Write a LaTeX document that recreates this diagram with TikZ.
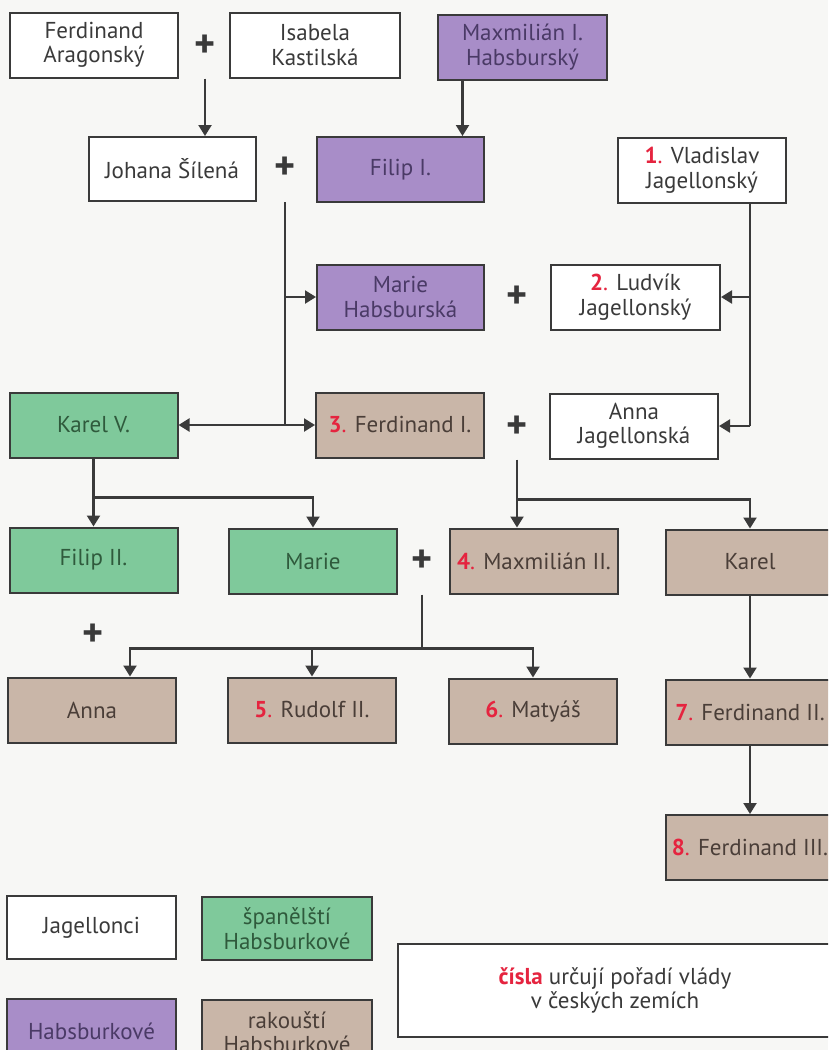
\documentclass[tikz,border=0pt]{standalone}
\usepackage{fontspec}
\setmainfont{PT Sans}
\usetikzlibrary{arrows.meta,calc}
\definecolor{bgc}{HTML}{F7F7F5}
\definecolor{linec}{HTML}{3A3A3A}
\definecolor{habs}{HTML}{A88DC8}
\definecolor{habtext}{HTML}{4A3A66}
\definecolor{spa}{HTML}{7FC99B}
\definecolor{spatext}{HTML}{2F5A3C}
\definecolor{rak}{HTML}{C9B6A8}
\definecolor{raktext}{HTML}{4A3E38}
\definecolor{nrred}{HTML}{E5243F}
\newcommand{\nr}[1]{{\color{nrred}\textbf{#1}.}}
\tikzset{
    person/.style={draw=linec,line width=2pt,fill=white,text=linec,minimum width=168pt,minimum height=65pt,
        align=center,inner sep=2pt,font=\fontsize{23}{24.5}\selectfont},
    habsb/.style={person,fill=habs,text=habtext},
    spanb/.style={person,fill=spa,text=spatext},
    austb/.style={person,fill=rak,text=raktext},
    marry/.style={text=linec,inner sep=0pt,font=\fontsize{40}{40}\selectfont\bfseries},
    conn/.style={draw=linec,line width=2.2pt},
    arr/.style={conn,-{Triangle[width=13pt,length=11pt]}}
}
\begin{document}
\begin{tikzpicture}[x=1pt,y=-1pt]
    \path[use as bounding box,fill=bgc] (0,0) rectangle (828,1050);
    \clip (0,0) rectangle (828,1050);
    % generations
    \node[person] at (94,45)(fa){Ferdinand\\Aragonský};
    \node[person,minimum width=170pt] at (315,45)(ik){Isabela\\Kastilská};
    \node[habsb,minimum width=169pt] at (522.5,47)(mx1){Maxmilián I.\\Habsburský};
    \node[person,minimum width=167pt,minimum height=64pt] at (172,169)(js){Johana Šílená};
    \node[habsb,minimum width=167pt] at (400.5,169.5)(fi){Filip I.};
    \node[person] at (702,170)(vl){\nr{1} Vladislav\\Jagellonský};
    \node[habsb,minimum width=167pt] at (400.5,297)(mh){Marie\\Habsburská};
    \node[person,minimum width=169pt] at (635.5,297)(lu){\nr{2} Ludvík\\Jagellonský};
    \node[spanb] at (93.5,425)(kv){Karel V.};
    \node[austb] at (400,425)(f1){\nr{3} Ferdinand I.};
    \node[person] at (634,426)(aj){Anna\\Jagellonská};
    \node[spanb] at (93.5,560)(f2){Filip II.};
    \node[spanb] at (313,561)(ma){Marie};
    \node[austb] at (534,561)(mx2){\nr{4} Maxmilián II.};
    \node[austb] at (750,562)(ka){Karel};
    \node[austb] at (92,710)(an){Anna};
    \node[austb] at (312,710)(ru){\nr{5} Rudolf II.};
    \node[austb] at (533,711)(mt){\nr{6} Matyáš};
    \node[austb] at (750,712)(f7){\nr{7} Ferdinand II.};
    \node[austb] at (750,847.5)(f8){\nr{8} Ferdinand III.};
    \foreach \p/\x/\y in {1/205/46,2/285/168,3/517/297,4/517/427,5/422/561,6/93/635}{
        \node[marry] at (\x,\y)(plus\p){+};
    }
    % legend
    \node[person,minimum width=169pt,minimum height=63pt] at (91.5,927.5)(lgj){Jagellonci};
    \node[spanb,minimum width=170pt,minimum height=63pt] at (287,928.5)(lgs){španělští\\Habsburkové};
    \node[habsb,minimum width=169pt] at (91.5,1031)(lgh){Habsburkové};
    \node[austb,minimum width=170pt] at (287,1032)(lgr){rakouští\\Habsburkové};
    \node[person,minimum width=434pt,minimum height=93pt] at (615,990.5)(lgn){{\color{nrred}\textbf{čísla}} určují pořadí vlády\\v českých zemích};
    % connectors
    \coordinate (mxb) at ($(mx1.south)+(-60,0)$);
    \coordinate (vlb) at ($(vl.south)+(48,0)$);
    \coordinate (k4) at ($(plus4 |- mx2.north)+(0,-28)$);
    \coordinate (k5) at ($(plus5 |- ru.north)+(0,-28)$);
    \path[arr] (plus1 |- fa.south) -- (plus1 |- js.north);
    \path[arr] (mxb) -- (mxb |- fi.north);
    \path[conn] (plus2 |- js.south) -- (plus2 |- kv.east);
    \path[arr] (plus2 |- mh.west) -- (mh.west);
    \path[arr] (plus2 |- kv.east) -- (kv.east);
    \path[arr] (plus2 |- f1.west) -- (f1.west);
    \path[conn] (vlb) -- (vlb |- aj.east);
    \path[arr] (vlb |- lu.east) -- (lu.east);
    \path[arr] (vlb |- aj.east) -- (aj.east);
    \path[arr] (kv.south) -- (f2.north);
    \path[arr] (kv.south) |- ($(ma.north)+(0,-30)$) -- (ma.north);
    \path[arr] (plus4 |- aj.south) -- (plus4 |- mx2.north);
    \path[arr] (k4) -| (ka.north);
    \path[conn] (plus5 |- mx2.south) -- (k5);
    \path[arr] (k5) -| (mt.north);
    \path[arr] (k5) -| ($(an.north)+(38,0)$);
    \path[arr] (ru.north |- k5) -- (ru.north);
    \path[arr] (ka.south) -- (f7.north);
    \path[arr] (f7.south) -- (f8.north);
\end{tikzpicture}
\end{document}
